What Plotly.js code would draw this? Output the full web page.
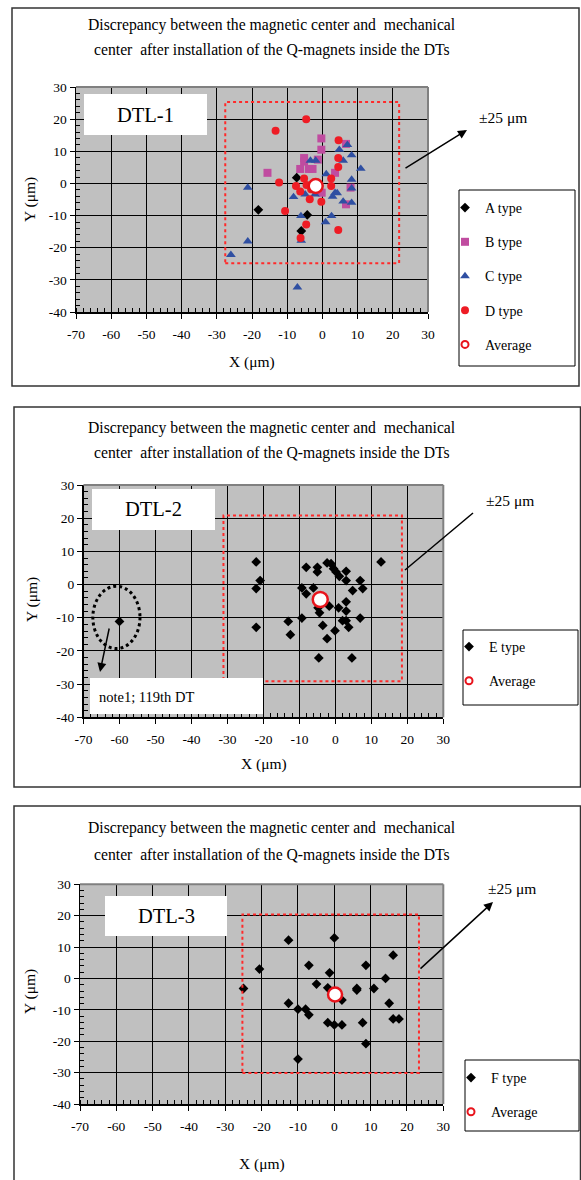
<!DOCTYPE html>
<html>
<head>
<meta charset="utf-8">
<script src="https://cdn.plot.ly/plotly-3.0.1.min.js"></script>
<style>html,body{margin:0;padding:0;background:#fff;}#chart{width:581px;height:1180px;}</style>
</head>
<body>
<div id="chart"></div>
<script>
// ---------- DATA ----------
const titleLine1 = "Discrepancy between the magnetic center and  mechanical";
const titleLine2 = "center  after installation of the Q-magnets inside the DTs";
const panelLabels = ["DTL-1", "DTL-2", "DTL-3"];
const toleranceLabel = "\u00b125 \u03bcm";
const noteLabel = "note1; 119th DT";
const xAxisTitle = "X (\u03bcm)";
const yAxisTitle = "Y (\u03bcm)";

const xTickVals = [-70, -60, -50, -40, -30, -20, -10, 0, 10, 20, 30];
const xTickText = ["-70", "-60", "-50", "-40", "-30", "-20", "-10", "0", "10", "20", "30"];
const yTickVals = [-40, -30, -20, -10, 0, 10, 20, 30];
const yTickText = ["-40", "-30", "-20", "-10", "0", "10", "20", "30"];

// DTL-1
const dtl1_A_x = [-18.2, -4.3, -6.0, -7.3];
const dtl1_A_y = [-8.2, -9.8, -14.8, 1.8];
const dtl1_B_x = [-0.3, -0.3, -5.2, -5.2, -6.3, -2.8, -1.3, -15.6, 6.7, 3.6, 6.7, 8.0, -0.2, -3.8];
const dtl1_B_y = [14.0, 10.5, 7.9, 6.8, 4.5, 4.5, 7.4, 3.3, 12.3, 3.3, -6.5, -1.3, -2.9, 4.5];
const dtl1_C_x = [-21.2, -21.2, -26.0, -7.1, -3.4, -1.9, 4.8, 7.1, 8.3, 5.9, 10.9, 1.1, 8.3, 8.3, 3.6, 2.9, 5.9, 8.3, -8.2, -6.1, 2.6, 0.9, -6.0, -4.9, -2.1, 4.2];
const dtl1_C_y = [-1.3, -18.0, -22.2, -32.3, 7.1, 7.1, 10.5, 12.0, 8.8, 7.1, 4.6, 2.9, 1.2, -1.5, -2.9, -4.1, -5.6, -6.0, -4.2, -10.1, -10.1, -12.0, -17.8, -3.4, -3.4, -3.0];
const dtl1_D_x = [-4.6, -13.3, 4.6, 4.5, 4.5, -12.3, -5.2, 2.5, 2.5, -7.5, -6.3, -3.6, -0.3, -10.6, -4.6, -6.2, 4.5, -4.5, -3.2];
const dtl1_D_y = [20.0, 16.4, 13.4, 7.9, 5.1, 0.3, 1.5, 1.5, -0.8, -0.8, -2.5, -4.9, -5.7, -8.6, -12.8, -17.0, -14.5, -0.5, -1.8];
const dtl1_avg_x = [-1.9];
const dtl1_avg_y = [-0.8];

// DTL-2
const dtl2_E_x = [-60, -22.0, -20.9, -22.0, -22.0, -8.1, -5.0, -5.0, -2.3, -1.2, -0.5, 0.2, 1.1, 3.0, 3.0, 6.9, 4.8, 7.6, 12.7, -9.3, -8.1, -6.1, -4.8, -4.4, -1.7, 0.9, 3.0, 3.0, 6.9, 2.0, 3.0, 3.7, -13.1, -9.3, -12.5, -3.5, -0.1, -2.3, -4.6, 4.6];
const dtl2_E_y = [-11.1, 6.8, 1.2, -1.2, -12.9, 5.2, 5.2, 3.8, 6.5, 6.3, 4.8, 3.8, 2.5, 4.0, 1.2, 1.2, -1.8, -1.2, 6.8, -1.0, -2.8, -1.0, -7.0, -8.5, -6.5, -7.0, -5.2, -8.0, -10.1, -10.9, -10.9, -12.9, -11.1, -10.1, -15.1, -12.3, -13.9, -16.3, -22.1, -22.1];
const dtl2_avg_x = [-4.2];
const dtl2_avg_y = [-4.5];

// DTL-3
const dtl3_F_x = [-25.0, -20.6, -12.6, 0, 16.2, -7.0, -1.3, 8.7, 14.1, -4.9, -1.8, 6.2, 6.2, 10.9, 2.1, -12.6, -10.0, -7.9, -7.0, 15.1, 16.2, 17.8, -1.8, 0, 2.1, 7.8, 8.7, -10.0];
const dtl3_F_y = [-3.2, 3.0, 12.2, 12.9, 7.4, 4.2, 1.8, 4.2, 0, -1.8, -3.0, -3.2, -3.7, -3.2, -6.9, -7.9, -9.8, -9.8, -11.6, -7.9, -12.9, -12.9, -14.1, -14.8, -14.8, -14.1, -20.8, -25.7];
const dtl3_avg_x = [0.2];
const dtl3_avg_y = [-5.1];

// tolerance boxes (data units)
const tolBox1 = {x: [-27.6, 21.8], y: [-24.8, 25.3]};
const tolBox2 = {x: [-31.1, 18.5], y: [-29.1, 20.8]};
const tolBox3 = {x: [-25.3, 23.3], y: [-30.1, 20.4]};
const noteEllipse = {x: [-67.4, -54.3], y: [-19.3, -0.5]};

// ---------- LAYOUT HELPERS ----------
const W = 581, H = 1180;
const X = p => p / W;
const Y = p => 1 - p / H;
const FONT = "Liberation Serif, Times New Roman, serif";

const colA = "#000000", colB = "#c04ca0", colC = "#2f4fa2", colD = "#ee1c25", colAvg = "#e8141c";

function axisX(domPx, anchor) {
  return {
    domain: [X(domPx[0]), X(domPx[1])], range: [-70, 30], anchor: anchor,
    tickmode: "array", tickvals: xTickVals, ticktext: xTickText,
    showgrid: true, gridcolor: "#000", gridwidth: 1, zeroline: false,
    showline: true, linecolor: "#000", linewidth: 1.5,
    ticks: "outside", ticklen: 5, tickcolor: "#000", tickwidth: 1, ticklabelstandoff: 4,
    minor: {tickmode: "linear", tick0: -70, dtick: 2, ticks: "inside", ticklen: 4, tickcolor: "#000", showgrid: false},
    tickfont: {family: FONT, size: 13.5, color: "#000"}, fixedrange: true
  };
}
function axisY(domPx, anchor) {
  return {
    domain: [Y(domPx[1]), Y(domPx[0])], range: [-40, 30], anchor: anchor,
    tickmode: "array", tickvals: yTickVals, ticktext: yTickText,
    showgrid: true, gridcolor: "#000", gridwidth: 1, zeroline: false,
    showline: true, linecolor: "#000", linewidth: 1.5,
    ticks: "outside", ticklen: 5, tickcolor: "#000", tickwidth: 1,
    minor: {tickmode: "linear", tick0: -40, dtick: 2, ticks: "inside", ticklen: 4, tickcolor: "#000", showgrid: false},
    tickfont: {family: FONT, size: 13.5, color: "#000"}, fixedrange: true
  };
}

function pts(name, x, y, xa, ya, legend, symbol, color, size, group) {
  return {type: "scatter", mode: "markers", name: name, x: x, y: y, xaxis: xa, yaxis: ya,
    legend: legend, legendgroup: group, cliponaxis: false,
    marker: {symbol: symbol, color: color, size: size, line: {width: 0}}};
}
function avgTrace(x, y, xa, ya, legend, size) {
  return {type: "scatter", mode: "markers", name: "Average", x: x, y: y, xaxis: xa, yaxis: ya,
    legend: legend, showlegend: false, cliponaxis: false,
    marker: {symbol: "circle", color: "#ffffff", size: size, line: {color: colAvg, width: 2.5}}};
}
function avgLegend(xa, ya, legend, group) {
  return {type: "scatter", mode: "markers", name: "Average", x: [null], y: [null], xaxis: xa, yaxis: ya,
    legend: legend, legendgroup: group, showlegend: true,
    marker: {symbol: "circle", color: "#ffffff", size: 7, line: {color: colAvg, width: 2}}};
}

const data = [
  pts("A type", dtl1_A_x, dtl1_A_y, "x", "y", "legend", "diamond", colA, 7.5, "a"),
  pts("B type", dtl1_B_x, dtl1_B_y, "x", "y", "legend", "square", colB, 8, "b"),
  pts("C type", dtl1_C_x, dtl1_C_y, "x", "y", "legend", "triangle-up", colC, 8.5, "c"),
  pts("D type", dtl1_D_x, dtl1_D_y, "x", "y", "legend", "circle", colD, 8, "d"),
  avgTrace(dtl1_avg_x, dtl1_avg_y, "x", "y", "legend", 14),
  avgLegend("x", "y", "legend", "e"),

  pts("E type", dtl2_E_x, dtl2_E_y, "x2", "y2", "legend2", "diamond", colA, 7.5, "f"),
  avgTrace(dtl2_avg_x, dtl2_avg_y, "x2", "y2", "legend2", 15),
  avgLegend("x2", "y2", "legend2", "g"),

  pts("F type", dtl3_F_x, dtl3_F_y, "x3", "y3", "legend3", "diamond", colA, 7.5, "h"),
  avgTrace(dtl3_avg_x, dtl3_avg_y, "x3", "y3", "legend3", 14),
  avgLegend("x3", "y3", "legend3", "i")
];

// plot rectangles in pixels: [left, right, top, bottom]
const plots = [[76, 428, 87, 312], [83.5, 443.3, 485, 717.3], [80, 443.3, 884.3, 1104]];

const shapes = [];
const annotations = [];

function rectPx(l, r, t, b, line, fill, layer) {
  shapes.push({type: "rect", xref: "paper", yref: "paper", x0: X(l), x1: X(r), y0: Y(b), y1: Y(t),
    line: line, fillcolor: fill || "rgba(0,0,0,0)", layer: layer || "above"});
}
function linePx(x0, y0, x1, y1, color, width) {
  shapes.push({type: "line", xref: "paper", yref: "paper", x0: X(x0), y0: Y(y0), x1: X(x1), y1: Y(y1),
    line: {color: color, width: width}, layer: "above"});
}
function textPx(txt, x, y, size, opts) {
  annotations.push(Object.assign({text: txt, xref: "paper", yref: "paper", x: X(x), y: Y(y),
    xanchor: "center", yanchor: "middle", showarrow: false,
    font: {family: FONT, size: size, color: "#000"}}, opts || {}));
}
function arrowPx(hx, hy, tx, ty, head) {
  annotations.push({text: "", xref: "paper", yref: "paper", x: X(hx), y: Y(hy),
    ax: tx - hx, ay: ty - hy, showarrow: true, arrowhead: head ? 2 : 0, arrowsize: 1.2,
    arrowwidth: 1.5, arrowcolor: "#000", standoff: 0, startstandoff: 0});
}

// panel frames
rectPx(12, 579, 8, 386, {color: "#333", width: 1.5});
rectPx(14, 580.5, 407, 787, {color: "#333", width: 1.5});
rectPx(14, 580.5, 806, 1185, {color: "#333", width: 1.5});

// grey plot frames (top/right)
plots.forEach(p => {
  linePx(p[0], p[2], p[1], p[2], "#808080", 2);
  linePx(p[1], p[2], p[1], p[3], "#808080", 2);
});

// tolerance boxes
[[tolBox1, "x", "y"], [tolBox2, "x2", "y2"], [tolBox3, "x3", "y3"]].forEach(b => {
  shapes.push({type: "rect", xref: b[1], yref: b[2], x0: b[0].x[0], x1: b[0].x[1], y0: b[0].y[0], y1: b[0].y[1],
    line: {color: "#ff2a2a", width: 2, dash: "dot"}, layer: "above"});
});
// ellipse around 119th DT
shapes.push({type: "circle", xref: "x2", yref: "y2", x0: noteEllipse.x[0], x1: noteEllipse.x[1],
  y0: noteEllipse.y[0], y1: noteEllipse.y[1], line: {color: "#000", width: 3, dash: "dot"}, layer: "above"});

// white label boxes
rectPx(84, 207, 94, 135, {width: 0}, "#ffffff");
rectPx(92, 215, 489, 530, {width: 0}, "#ffffff");
rectPx(105, 227, 896, 936, {width: 0}, "#ffffff");
rectPx(90, 263, 678, 714, {width: 0}, "#ffffff");

// legend frames
rectPx(459, 575, 190, 366, {color: "#000", width: 1}, "#ffffff", "below");
rectPx(463, 578, 630, 705, {color: "#000", width: 1}, "#ffffff", "below");
rectPx(465, 579, 1060, 1131, {color: "#000", width: 1}, "#ffffff", "below");

// titles
[[25, 50], [428, 453], [828, 855]].forEach(t => {
  textPx(titleLine1, 272, t[0], 15.7);
  textPx(titleLine2, 272, t[1], 15.7);
});
// panel labels
textPx(panelLabels[0], 145.5, 115, 20.5);
textPx(panelLabels[1], 153.5, 509.5, 20.5);
textPx(panelLabels[2], 166, 916, 20.5);
textPx(noteLabel, 97, 697, 14.5, {xanchor: "left"});
// tolerance labels
textPx(toleranceLabel, 503, 117, 15.5);
textPx(toleranceLabel, 510, 500, 15.5);
textPx(toleranceLabel, 512, 888, 15.5);
// axis titles
textPx(xAxisTitle, 252, 362, 15.5);
textPx(yAxisTitle, 30, 200, 15.5, {textangle: -90});
textPx(xAxisTitle, 264, 764, 15.5);
textPx(yAxisTitle, 32, 600, 15.5, {textangle: -90});
textPx(xAxisTitle, 262, 1164, 15.5);
textPx(yAxisTitle, 30, 992, 15.5, {textangle: -90});
// arrows / leader lines
arrowPx(467, 130, 404, 169, true);
linePx(405, 570, 473, 513, "#000", 1.5);
arrowPx(493, 902, 419, 970, true);
arrowPx(100, 672, 109.5, 627, true);

function legendAt(xPx, yPx) {
  return {x: X(xPx), y: Y(yPx), xanchor: "left", yanchor: "top", bgcolor: "rgba(0,0,0,0)", borderwidth: 0,
    font: {family: FONT, size: 14, color: "#000"}, traceorder: "grouped", tracegroupgap: 13,
    itemsizing: "trace", itemwidth: 30};
}

const layout = {
  width: W, height: H, margin: {l: 0, r: 0, t: 0, b: 0},
  paper_bgcolor: "#ffffff", plot_bgcolor: "#c0c0c0",
  showlegend: true,
  xaxis: axisX([plots[0][0], plots[0][1]], "y"),
  yaxis: axisY([plots[0][2], plots[0][3]], "x"),
  xaxis2: axisX([plots[1][0], plots[1][1]], "y2"),
  yaxis2: axisY([plots[1][2], plots[1][3]], "x2"),
  xaxis3: axisX([plots[2][0], plots[2][1]], "y3"),
  yaxis3: axisY([plots[2][2], plots[2][3]], "x3"),
  legend: legendAt(445, 192),
  legend2: legendAt(449, 631),
  legend3: legendAt(451, 1062),
  shapes: shapes,
  annotations: annotations
};

Plotly.newPlot("chart", data, layout, {displayModeBar: false, staticPlot: true});
</script>
</body>
</html>
